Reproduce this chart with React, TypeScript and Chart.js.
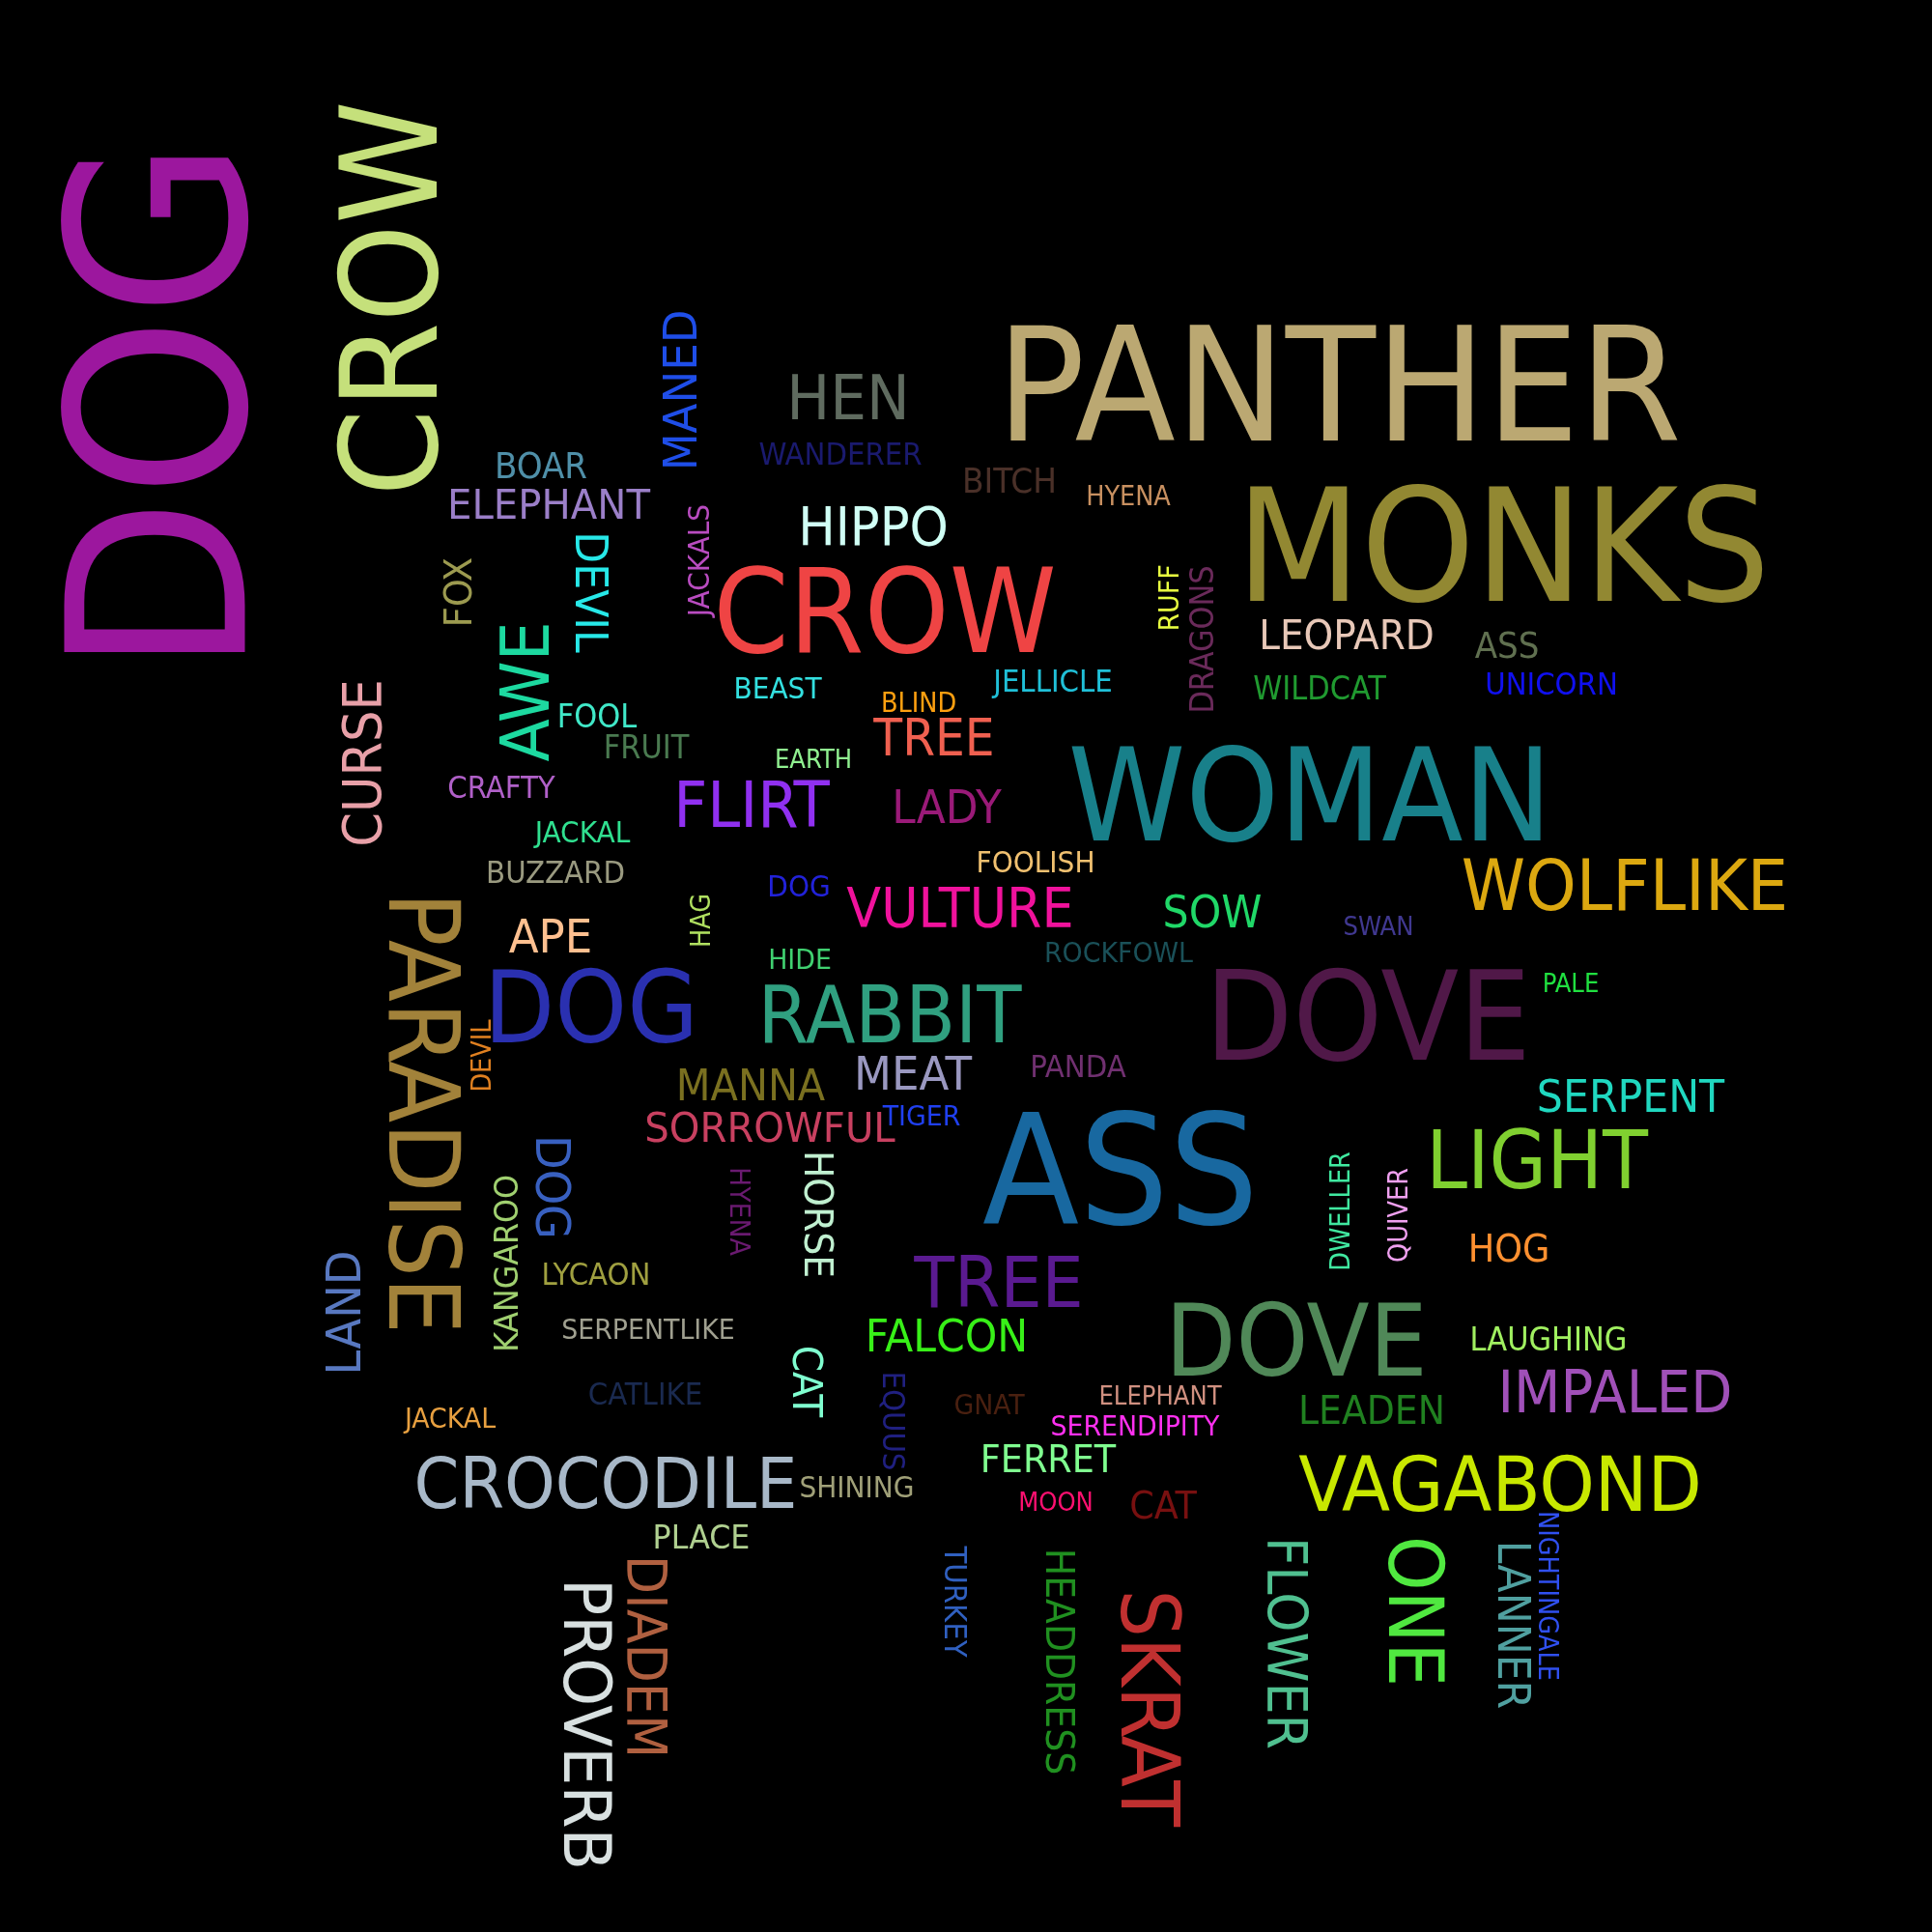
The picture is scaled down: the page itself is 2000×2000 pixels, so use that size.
import { Chart, registerables, type Plugin } from 'chart.js';
import { useEffect, useRef } from 'react';

Chart.register(...registerables);

// words of the cloud, with their place (in chart units) and weight
const words = [
  'DOG', 'CROW', 'PANTHER', 'MONKS', 'WOMAN', 'ASS', 'DOVE', 'CROW', 'PARADISE', 'DOG',
  'DOVE', 'LIGHT', 'RABBIT', 'VAGABOND', 'SKRAT', 'ONE', 'TREE', 'CROCODILE', 'WOLFLIKE', 'AWE',
  'PROVERB', 'FLIRT', 'HEN', 'IMPALED', 'DIADEM', 'FLOWER', 'VULTURE', 'CURSE', 'HIPPO', 'TREE',
  'LAND', 'DOG', 'MEAT', 'MANED', 'APE', 'LADY', 'DEVIL', 'SOW', 'SERPENT', 'LANNER',
  'FALCON', 'MANNA', 'ELEPHANT', 'SORROWFUL', 'LEOPARD', 'CAT', 'HORSE', 'LEADEN', 'HEADDRESS', 'FOX',
  'HOG', 'FERRET', 'CAT', 'BOAR', 'ASS', 'BITCH', 'KANGAROO', 'PLACE', 'DRAGONS', 'FOOL',
  'FRUIT', 'WILDCAT', 'LAUGHING', 'WANDERER', 'JELLICLE', 'UNICORN', 'CRAFTY', 'BUZZARD', 'PANDA', 'LYCAON',
  'CATLIKE', 'EQUUS', 'TURKEY', 'JACKALS', 'BEAST', 'JACKAL', 'DOG', 'FOOLISH', 'SHINING', 'BLIND',
  'ROCKFOWL', 'HIDE', 'RUFF', 'TIGER', 'HYENA', 'SERPENTLIKE', 'JACKAL', 'GNAT', 'SERENDIPITY', 'HYENA',
  'HAG', 'DWELLER', 'QUIVER', 'NIGHTINGALE', 'EARTH', 'SWAN', 'PALE', 'ELEPHANT', 'MOON', 'DEVIL',
];

const wordX = [
  156, 399, 1386, 1556, 1356, 1160, 1416, 916, 441, 612,
  1342, 1591, 921, 1553, 1193, 1467, 1034, 627, 1682, 541,
  610, 778, 878, 1672, 670, 1333, 994, 373, 904, 967,
  354, 574, 945, 702, 570, 980, 613, 1255, 1688, 1568,
  980, 777, 568, 797, 1394, 837, 848, 1420, 1098, 473,
  1562, 1085, 1204, 560, 1560, 1045, 523, 726, 1243, 618,
  669, 1366, 1603, 870, 1090, 1606, 519, 575, 1116, 617,
  668, 926, 990, 722, 805, 603, 827, 1072, 887, 951,
  1158, 828, 1209, 954, 767, 671, 466, 1024, 1175, 1168,
  724, 1386, 1446, 1603, 842, 1427, 1626, 1201, 1093, 497,
];

const wordY = [
  421, 309, 393, 560, 819, 1207, 1048, 629, 1152, 1040,
  1385, 1198, 1048, 1534, 1768, 1668, 1325, 1533, 914, 716,
  1785, 831, 409, 1439, 1715, 1701, 938, 790, 543, 762,
  1359, 1229, 1109, 404, 967, 834, 613, 942, 1133, 1682,
  1381, 1122, 520, 1165, 656, 1430, 1257, 1458, 1720, 613,
  1291, 1509, 1557, 481, 667, 496, 1308, 1590, 662, 740,
  772, 711, 1385, 469, 704, 707, 814, 902, 1103, 1318,
  1442, 1471, 1658, 580, 711, 860, 916, 891, 1538, 726,
  985, 992, 619, 1154, 1254, 1375, 1467, 1453, 1475, 512,
  953, 1254, 1258, 1652, 785, 958, 1017, 1444, 1554, 1093,
];

const weights = [
  195, 106, 125, 123, 101, 120, 97, 92, 77, 78,
  78, 63, 62, 60, 64, 59, 56, 55, 55, 53,
  52, 50, 49, 46, 43, 43, 43, 42, 42, 40,
  38, 38, 37, 37, 37, 36, 35, 35, 35, 35,
  35, 34, 33, 33, 32, 32, 31, 31, 31, 30,
  30, 30, 30, 28, 28, 27, 26, 26, 25, 25,
  25, 25, 25, 24, 24, 24, 24, 24, 24, 24,
  24, 24, 24, 23, 23, 23, 23, 23, 23, 21,
  22, 22, 22, 22, 22, 22, 22, 22, 22, 21,
  21, 21, 21, 21, 20, 20, 20, 20, 20, 21,
];

// 0 = flat, -90 = reads upward, 90 = reads downward
const turns = [
  -90, -90, 0, 0, 0, 0, 0, 0, 90, 0,
  0, 0, 0, 0, 90, 90, 0, 0, 0, -90,
  90, 0, 0, 0, 90, 90, 0, -90, 0, 0,
  -90, 90, 0, -90, 0, 0, 90, 0, 0, 90,
  0, 0, 0, 0, 0, 90, 90, 0, 90, -90,
  0, 0, 0, 0, 0, 0, -90, 0, -90, 0,
  0, 0, 0, 0, 0, 0, 0, 0, 0, 0,
  0, 90, 90, -90, 0, 0, 0, 0, 0, 0,
  0, 0, -90, 0, 90, 0, 0, 0, 0, 0,
  -90, -90, -90, 90, 0, 0, 0, 0, 0, -90,
];

const colors = [
  '#9c179e', '#c5e07b', '#bba872', '#928832', '#18808a', '#1868a0', '#501848', '#ef4444', '#a2823a', '#2a30b0',
  '#508858', '#80d030', '#30a080', '#c8e800', '#c03030', '#50e840', '#5a1a90', '#a8b8c8', '#dca810', '#1dd9a0',
  '#d8e0e0', '#9030f0', '#5f6b5f', '#a050b8', '#b06040', '#50c090', '#f0129c', '#e8a0a8', '#d0fff5', '#f06050',
  '#5878c0', '#3860c0', '#9a98c0', '#1f4ee8', '#ffc090', '#9a1a78', '#27e8e8', '#20d868', '#20d8c0', '#50a0a0',
  '#38f018', '#7a7020', '#9b7fc8', '#c84060', '#e8c8b8', '#80ffd0', '#c0f0d0', '#208020', '#209020', '#9c9a50',
  '#ff9030', '#80ff90', '#781010', '#4f8fa8', '#607050', '#4a3028', '#a0d070', '#b0d090', '#6a2a5a', '#40e8c8',
  '#4a7a50', '#209a30', '#a0f060', '#1a1a6e', '#20c0d8', '#1010f0', '#b060c8', '#9a9a80', '#703070', '#a0a040',
  '#1a2a50', '#202080', '#3060c0', '#b94cc0', '#33e0e0', '#30e090', '#2222d8', '#f0c070', '#a0a078', '#ffa010',
  '#1a5058', '#40d070', '#e8ff40', '#2040f0', '#6a1a70', '#a0a090', '#e8a040', '#4a2010', '#ff30f0', '#c89060',
  '#b0e060', '#40e8a0', '#f0a0f0', '#3050f0', '#90f090', '#403890', '#20e040', '#d09080', '#ff1070', '#e08020',
];

const FONT = '"DejaVu Sans Condensed", "DejaVu Sans", sans-serif';
const CAP = 0.76; // cap height per em, as it looks next to the reference
const STRETCH = 1.03; // a touch wider along the baseline

const cloudPlugin: Plugin<'scatter'> = {
  id: 'cloud',
  beforeDraw(chart) {
    const { ctx, width, height } = chart;
    ctx.save();
    ctx.fillStyle = '#000';
    ctx.fillRect(0, 0, width, height);
    ctx.restore();
  },
  afterDatasetsDraw(chart) {
    const { ctx, scales } = chart;
    const xs = scales.x;
    const ys = scales.y;
    const unit = Math.abs(ys.getPixelForValue(1) - ys.getPixelForValue(0));
    words.forEach((w, i) => {
      const cap = weights[i] * unit;
      ctx.save();
      ctx.translate(xs.getPixelForValue(wordX[i]), ys.getPixelForValue(wordY[i]));
      ctx.rotate((turns[i] * Math.PI) / 180);
      ctx.scale(STRETCH, 1);
      ctx.font = `${cap / CAP}px ${FONT}`;
      ctx.textAlign = 'center';
      ctx.textBaseline = 'alphabetic';
      ctx.fillStyle = colors[i];
      ctx.fillText(w, 0, cap / 2);
      ctx.restore();
    });
  },
};

export default function App() {
  const canvasRef = useRef<HTMLCanvasElement>(null);
  const chartRef = useRef<Chart<'scatter'> | null>(null);

  useEffect(() => {
    document.body.style.margin = '0';
    document.body.style.background = '#000';
    if (!canvasRef.current) {
      return;
    }
    const context = canvasRef.current.getContext('2d');
    if (!context) {
      return;
    }

    chartRef.current = new Chart(context, {
      type: 'scatter',
      data: {
        datasets: [
          {
            data: words.map((_, i) => ({ x: wordX[i], y: wordY[i] })),
            pointRadius: 0,
            pointHoverRadius: 0,
          },
        ],
      },
      options: {
        animation: false,
        responsive: false,
        devicePixelRatio: 1,
        layout: { padding: 0 },
        events: [],
        plugins: {
          legend: { display: false },
          tooltip: { enabled: false },
        },
        scales: {
          x: { type: 'linear', min: 0, max: 2000, display: false },
          y: { type: 'linear', min: 0, max: 2000, reverse: true, display: false },
        },
      },
      plugins: [cloudPlugin],
    });

    return () => {
      chartRef.current?.destroy();
    };
  }, []);

  return <canvas ref={canvasRef} width={2000} height={2000} style={{ display: 'block' }} />;
}
